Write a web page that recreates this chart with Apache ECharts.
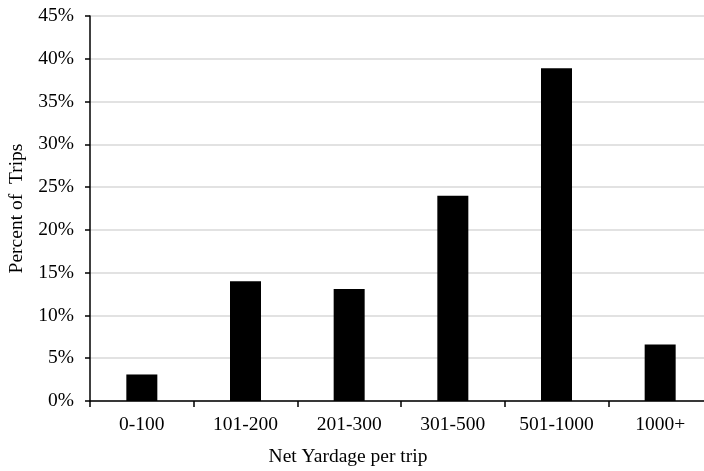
<!DOCTYPE html>
<html><head><meta charset="utf-8">
<script src="https://cdn.jsdelivr.net/npm/echarts@6/dist/echarts.min.js"></script>
<style>html,body{margin:0;padding:0;background:#fff}#c{width:704px;height:471px}</style>
</head><body><div id="c"></div>
<script>
const categories = ['0-100','101-200','201-300','301-500','501-1000','1000+'];
const percentTrips = [3.1, 14.0, 13.1, 24.0, 38.9, 6.6];
const yTicks = [0,5,10,15,20,25,30,35,40,45];
const font = '"Liberation Serif","Times New Roman",serif';
const chart = echarts.init(document.getElementById('c'), null, {renderer:'canvas'});
chart.setOption({
  animation:false,
  backgroundColor:'#fff',
  grid:{left:90, top:16, right:-8, bottom:70, containLabel:false, outerBoundsMode:'none'},
  xAxis:{
    type:'category', data:categories,
    name:'Net Yardage per trip', nameLocation:'middle', nameGap:46,
    nameTextStyle:{fontFamily:font, fontSize:19.5, color:'#000', padding:[0,106,0,0]},
    axisLine:{lineStyle:{color:'#000', width:1.5}},
    axisTick:{show:true, length:6, lineStyle:{color:'#000', width:1.5}},
    axisLabel:{fontFamily:font, fontSize:19.5, color:'#000', margin:14},
    splitLine:{show:false}
  },
  yAxis:{
    type:'value', min:yTicks[0], max:yTicks[yTicks.length-1], interval:5,
    name:'Percent of  Trips', nameLocation:'middle', nameGap:58, nameRotate:90,
    nameTextStyle:{fontFamily:font, fontSize:19.5, color:'#000'},
    axisLine:{show:true, lineStyle:{color:'#000', width:1.5}},
    axisTick:{show:true, length:5, lineStyle:{color:'#000', width:1.5}},
    axisLabel:{fontFamily:font, fontSize:19.5, color:'#000', margin:16, formatter:v=>v+'%'},
    splitLine:{show:true, lineStyle:{color:'#d9d9d9', width:1.5}}
  },
  series:[{type:'bar', data:percentTrips, barWidth:31, itemStyle:{color:'#000'}}]
});
</script></body></html>
